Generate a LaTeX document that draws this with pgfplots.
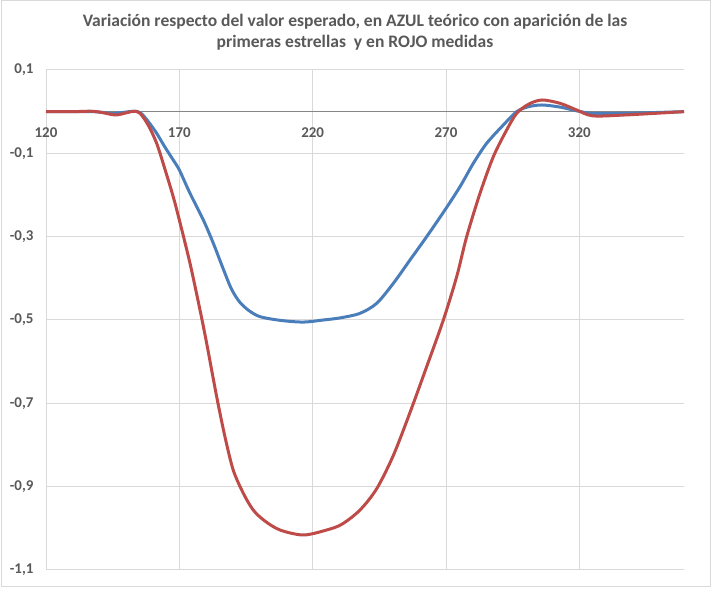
\documentclass[border=0pt]{standalone}
\usepackage{fontspec}
\setmainfont{Carlito}
\usepackage{pgfplots}
\pgfplotsset{compat=1.18}
\definecolor{gridc}{HTML}{D9D9D9}
\definecolor{axc}{HTML}{868686}
\definecolor{txt}{HTML}{595959}
\definecolor{blu}{HTML}{4A7EBB}
\definecolor{rd}{HTML}{BE4B48}
\begin{document}
\begin{tikzpicture}[x=1bp,y=1bp]
\useasboundingbox (0,0) rectangle (724,600);
\fill[white] (0,0) rectangle (724,600);
\draw[gridc, line width=1bp] (1,13) rectangle (710,599);
\node[font=\fontsize{17.6}{21}\selectfont\bfseries, text=txt, align=center] at (355,568) {Variación respecto del valor esperado, en AZUL teórico con aparición de las\\ primeras estrellas\ \ y en ROJO medidas};
\begin{axis}[
  at={(46bp,30bp)}, anchor=south west, scale only axis,
  width=638bp, height=500bp,
  xmin=120, xmax=359.25, ymin=-1.1, ymax=0.1,
  axis x line=middle, axis y line=left,
  hide obscured x ticks=false,
  x axis line style={-, draw=axc, line width=1bp},
  y axis line style={-, draw=gridc, line width=1bp},
  major tick length=0pt,
  xtick={120,170,220,270,320},
  xticklabels={120,170,220,270,320},
  ytick={0.1,-0.1,-0.3,-0.5,-0.7,-0.9,-1.1},
  yticklabels={{0,1},{-0,1},{-0,3},{-0,5},{-0,7},{-0,9},{-1,1}},
  xmajorgrids, ymajorgrids,
  grid style={draw=gridc, line width=1bp},
  ticklabel style={font=\fontsize{15}{17}\selectfont\bfseries, text=txt},
  xticklabel style={yshift=-13bp},
  yticklabel style={xshift=-9bp},
  clip=false,
]
\addplot[blu, line width=3bp, smooth, line join=round] coordinates {
(120,0) (130,0) (138,0) (145,-0.004) (150,-0.001) (153,0.001) (155.5,-0.003)
(158.5,-0.025) (161.5,-0.052) (164.5,-0.084) (167.7,-0.116) (170,-0.14)
(174,-0.196) (179,-0.26) (182.75,-0.316) (186.5,-0.378) (189.5,-0.425)
(192.5,-0.456) (196,-0.477) (200.25,-0.492) (208,-0.501) (216.5,-0.505) (224,-0.500)
(230.25,-0.495) (237.75,-0.484) (244,-0.46) (250.25,-0.412) (256.5,-0.356)
(262.75,-0.30) (269.6,-0.236) (275.25,-0.18) (280.25,-0.124) (285.25,-0.076)
(291.5,-0.032) (296.5,0) (301,0.012) (306,0.016) (312.75,0.011) (319,0.002)
(325,-0.004) (337,-0.004) (359.25,0)
};
\addplot[rd, line width=3bp, smooth, line join=round] coordinates {
(120,0) (130,0) (137,0.001) (141,-0.002) (146,-0.008) (150,-0.003) (153,0.001)
(155.25,-0.004) (158.3,-0.032) (161.5,-0.076) (164.6,-0.138) (167.7,-0.204)
(170,-0.26) (174,-0.364) (177.75,-0.476) (180.25,-0.556) (184,-0.684)
(187.1,-0.78) (190.2,-0.86) (194,-0.916) (197.7,-0.956) (202,-0.982)
(207.75,-1.004) (216.5,-1.016) (225.25,-1.004) (231,-0.99) (237.75,-0.956)
(244,-0.905) (250.25,-0.825) (256.5,-0.722) (262.75,-0.612) (269,-0.50)
(274,-0.396) (277.75,-0.30) (282.75,-0.196) (287.75,-0.108) (292.75,-0.044)
(296.5,-0.004) (301,0.018) (306,0.028) (312.75,0.020) (319,0.004) (325,-0.01)
(337,-0.008) (359.25,0)
};
\end{axis}
\end{tikzpicture}
\end{document}
